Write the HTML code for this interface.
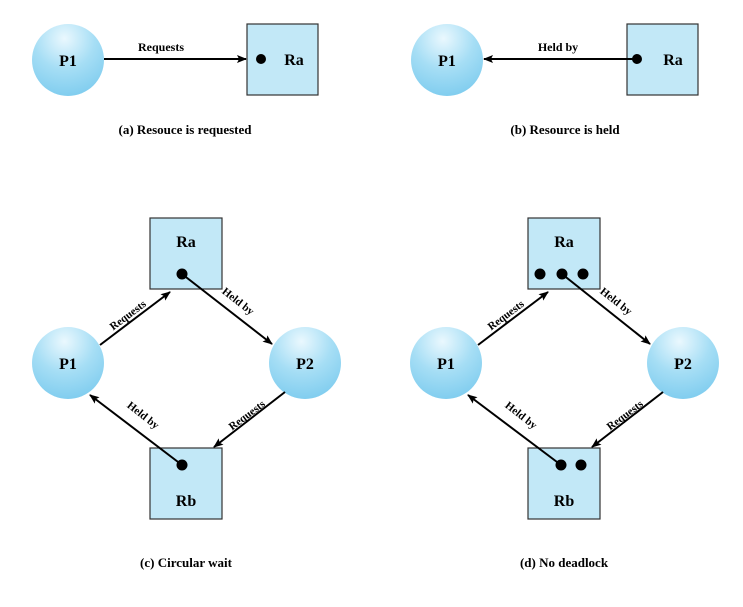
<!DOCTYPE html>
<html><head><style>body{margin:0;background:#fff}</style></head><body>
<svg width="743" height="602" viewBox="0 0 743 602" xmlns="http://www.w3.org/2000/svg" font-family="Liberation Serif, serif" font-weight="bold">
<defs>
<radialGradient id="g" cx="0.45" cy="0.2" r="0.85">
<stop offset="0" stop-color="#eaf8fe"/><stop offset="0.5" stop-color="#a6def5"/><stop offset="1" stop-color="#7ccbee"/>
</radialGradient>
<marker id="ah" markerWidth="10" markerHeight="8" refX="9" refY="4" orient="auto" markerUnits="userSpaceOnUse"><path d="M0,0 L10,4 L0,8 L2,4 z" fill="#000"/></marker>
</defs>
<g id="A">
<circle cx="68" cy="60" r="36" fill="url(#g)"/>
<text x="68" y="66" font-size="16" text-anchor="middle">P1</text>
<rect x="247" y="24" width="71" height="71" fill="#c2e8f7" stroke="#333" stroke-width="1.2"/>
<circle cx="261" cy="59" r="5" fill="#000"/>
<text x="294" y="65" font-size="16" text-anchor="middle">Ra</text>
<line x1="104" y1="59" x2="246" y2="59" stroke="#000" stroke-width="2" marker-end="url(#ah)"/>
<text x="161" y="51" font-size="12" text-anchor="middle">Requests</text>
<text x="185" y="134" font-size="13" text-anchor="middle">(a) Resouce is requested</text>
</g>
<g>
<circle cx="447" cy="60" r="36" fill="url(#g)"/>
<text x="447" y="66" font-size="16" text-anchor="middle">P1</text>
<rect x="627" y="24" width="71" height="71" fill="#c2e8f7" stroke="#333" stroke-width="1.2"/>
<circle cx="637" cy="59" r="5" fill="#000"/>
<text x="673" y="65" font-size="16" text-anchor="middle">Ra</text>
<line x1="637" y1="59" x2="484" y2="59" stroke="#000" stroke-width="2" marker-end="url(#ah)"/>
<text x="558" y="51" font-size="12" text-anchor="middle">Held by</text>
<text x="565" y="134" font-size="13" text-anchor="middle">(b) Resource is held</text>
</g>
<g id="C">
<rect x="150" y="218" width="72" height="71" fill="#c2e8f7" stroke="#333" stroke-width="1.2"/>
<text x="186" y="247" font-size="16" text-anchor="middle">Ra</text>
<rect x="150" y="448" width="72" height="71" fill="#c2e8f7" stroke="#333" stroke-width="1.2"/>
<text x="186" y="506" font-size="16" text-anchor="middle">Rb</text>
<circle cx="68" cy="363" r="36" fill="url(#g)"/>
<text x="68" y="369" font-size="16" text-anchor="middle">P1</text>
<circle cx="305" cy="363" r="36" fill="url(#g)"/>
<text x="305" y="369" font-size="16" text-anchor="middle">P2</text>
<line x1="100" y1="345" x2="170" y2="292" stroke="#000" stroke-width="2" marker-end="url(#ah)"/>
<line x1="285" y1="392" x2="214" y2="447" stroke="#000" stroke-width="2" marker-end="url(#ah)"/>
<text transform="translate(130,318) rotate(-37)" font-size="11" text-anchor="middle">Requests</text>
<text transform="translate(249,418) rotate(-37)" font-size="11" text-anchor="middle">Requests</text>
<text transform="translate(236,304) rotate(38)" font-size="11" text-anchor="middle">Held by</text>
<text transform="translate(141,418) rotate(38)" font-size="11" text-anchor="middle">Held by</text>
<text x="186" y="567" font-size="13" text-anchor="middle">(c) Circular wait</text>
</g>
<circle cx="182" cy="274" r="5.5" fill="#000"/>
<line x1="182" y1="274" x2="272" y2="344" stroke="#000" stroke-width="2" marker-end="url(#ah)"/>
<circle cx="182" cy="465" r="5.5" fill="#000"/>
<line x1="182" y1="465" x2="90" y2="395" stroke="#000" stroke-width="2" marker-end="url(#ah)"/>
<g transform="translate(378,0)">
<rect x="150" y="218" width="72" height="71" fill="#c2e8f7" stroke="#333" stroke-width="1.2"/>
<text x="186" y="247" font-size="16" text-anchor="middle">Ra</text>
<rect x="150" y="448" width="72" height="71" fill="#c2e8f7" stroke="#333" stroke-width="1.2"/>
<text x="186" y="506" font-size="16" text-anchor="middle">Rb</text>
<circle cx="68" cy="363" r="36" fill="url(#g)"/>
<text x="68" y="369" font-size="16" text-anchor="middle">P1</text>
<circle cx="305" cy="363" r="36" fill="url(#g)"/>
<text x="305" y="369" font-size="16" text-anchor="middle">P2</text>
<line x1="100" y1="345" x2="170" y2="292" stroke="#000" stroke-width="2" marker-end="url(#ah)"/>
<line x1="285" y1="392" x2="214" y2="447" stroke="#000" stroke-width="2" marker-end="url(#ah)"/>
<text transform="translate(130,318) rotate(-37)" font-size="11" text-anchor="middle">Requests</text>
<text transform="translate(249,418) rotate(-37)" font-size="11" text-anchor="middle">Requests</text>
<text transform="translate(236,304) rotate(38)" font-size="11" text-anchor="middle">Held by</text>
<text transform="translate(141,418) rotate(38)" font-size="11" text-anchor="middle">Held by</text>
<text x="186" y="567" font-size="13" text-anchor="middle">(d) No deadlock</text>
<circle cx="162" cy="274" r="5.5" fill="#000"/>
<circle cx="184" cy="274" r="5.5" fill="#000"/>
<circle cx="205" cy="274" r="5.5" fill="#000"/>
<line x1="184" y1="274" x2="272" y2="344" stroke="#000" stroke-width="2" marker-end="url(#ah)"/>
<circle cx="183" cy="465" r="5.5" fill="#000"/>
<circle cx="203" cy="465" r="5.5" fill="#000"/>
<line x1="183" y1="465" x2="90" y2="395" stroke="#000" stroke-width="2" marker-end="url(#ah)"/>
</g>
</svg>
</body></html>
